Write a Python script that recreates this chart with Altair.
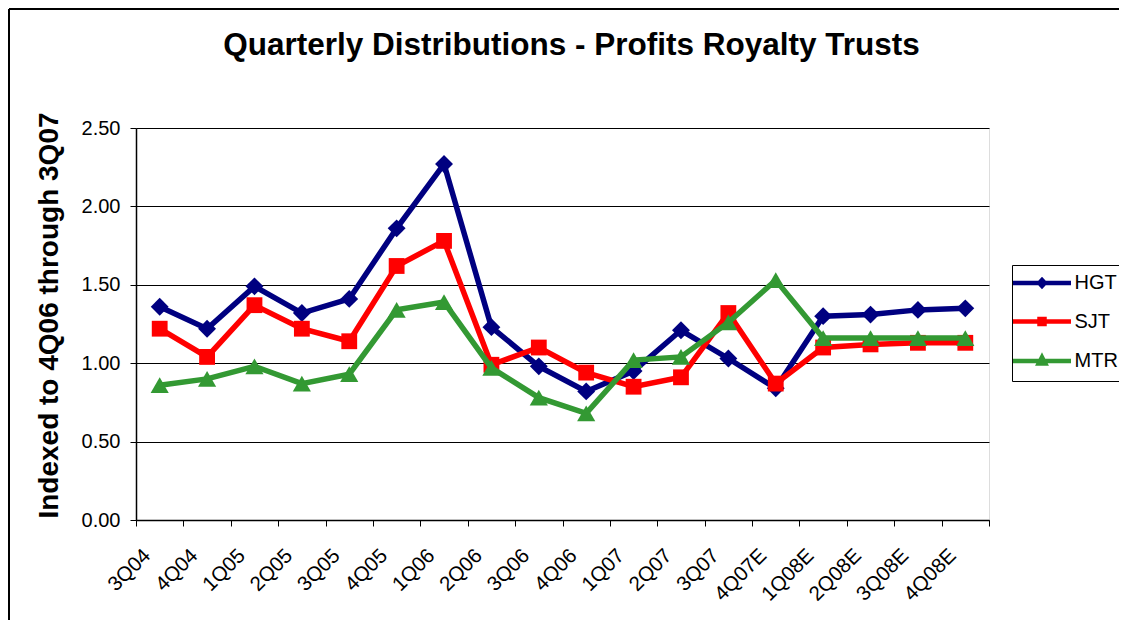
import altair as alt
import pandas as pd

quarters = ["3Q04", "4Q04", "1Q05", "2Q05", "3Q05", "4Q05", "1Q06", "2Q06", "3Q06",
            "4Q06", "1Q07", "2Q07", "3Q07", "4Q07E", "1Q08E", "2Q08E", "3Q08E", "4Q08E"]
hgt = [1.36, 1.22, 1.49, 1.32, 1.41, 1.86, 2.27, 1.23, 0.98, 0.82, 0.95, 1.21, 1.03, 0.84, 1.30, 1.31, 1.34, 1.35]
sjt = [1.22, 1.04, 1.37, 1.22, 1.14, 1.62, 1.78, 0.99, 1.10, 0.94, 0.85, 0.91, 1.32, 0.87, 1.10, 1.12, 1.13, 1.13]
mtr = [0.86, 0.90, 0.98, 0.87, 0.93, 1.34, 1.39, 0.97, 0.78, 0.68, 1.02, 1.04, 1.26, 1.53, 1.16, 1.16, 1.16, 1.16]

series_names = ["HGT", "SJT", "MTR"]
series_colors = ["#000080", "#FF0000", "#339933"]
series_shapes = ["diamond", "square", "triangle-up"]
series_sizes = [320, 250, 330]
y_ticks = [0, 0.5, 1.0, 1.5, 2.0, 2.5]
legend_paths = [
    "M-5.8,0H5.8M0,-0.6L0.55,0L0,0.6L-0.55,0Z",
    "M-5.8,0H5.8M-0.5,-0.5H0.5V0.5H-0.5Z",
    "M-5.8,0H5.8M0,-0.75L0.65,0.5H-0.65Z",
]

FONT = "Liberation Sans"

rows = []
for name, vals in zip(series_names, [hgt, sjt, mtr]):
    for q, v in zip(quarters, vals):
        rows.append({"quarter": q, "series": name, "value": v})
df = pd.DataFrame(rows)

x_enc = alt.X(
    "quarter:N", sort=quarters, bandPosition=0.5,
    scale=alt.Scale(type="band", paddingInner=0, paddingOuter=0),
    axis=alt.Axis(title=None, labelAngle=-45, labelFontSize=20.5, labelFont=FONT,
                  labelColor="black", tickBand="extent", tickSize=6, tickColor="black",
                  domainColor="black", domainWidth=1.5, grid=False, labelPadding=19,
                  labelOffset=-20),
)
y_enc = alt.Y(
    "value:Q", scale=alt.Scale(domain=[0, 2.5], nice=False, zero=True),
    axis=alt.Axis(values=y_ticks, format=".2f", title="Indexed to 4Q06 through 3Q07",
                  labelFontSize=20, labelFont=FONT, labelColor="black", labelPadding=10,
                  tickSize=6, tickColor="black", domainColor="black", domainWidth=1.5,
                  grid=True, gridColor="black", gridWidth=1, gridOpacity=1,
                  titleFont=FONT, titleFontSize=28, titleFontWeight="bold", titleColor="black",
                  titleX=-79, titleY=187, titleAngle=270, titleAlign="center",
                  titleBaseline="alphabetic"),
)

base = alt.Chart(df)
layers = []
for name, color, shape, size in zip(series_names, series_colors, series_shapes, series_sizes):
    sub = base.transform_filter(alt.datum.series == name)
    layers.append(sub.mark_line(color=color, strokeWidth=5.5).encode(x=x_enc, y=y_enc))
    layers.append(sub.mark_point(shape=shape, filled=True, color=color, size=size, opacity=1)
                  .encode(x=x_enc, y=y_enc))

leg = alt.Legend(orient="none", legendX=876, legendY=137, title=None, symbolSize=100,
                 symbolStrokeWidth=4.5, symbolOpacity=1, symbolOffset=12, labelOffset=22.5,
                 labelFontSize=20, labelFont=FONT, labelColor="black", padding=8,
                 rowPadding=14.5, strokeColor="black", fillColor="white")
legend_layer = base.mark_point(opacity=0, filled=True).encode(
    x=x_enc, y=y_enc,
    shape=alt.Shape("series:N", sort=series_names,
                    scale=alt.Scale(domain=series_names, range=legend_paths), legend=leg),
    fill=alt.Fill("series:N", sort=series_names,
                  scale=alt.Scale(domain=series_names, range=series_colors), legend=leg),
    stroke=alt.Stroke("series:N", sort=series_names,
                      scale=alt.Scale(domain=series_names, range=series_colors), legend=leg),
)
layers.append(legend_layer)

frame_left = alt.Chart(df).mark_rule(color="black", strokeWidth=2).encode(
    x=alt.value(-127), y=alt.value(-119), y2=alt.value(500))
frame_top = alt.Chart(df).mark_rule(color="black", strokeWidth=2).encode(
    x=alt.value(-127), x2=alt.value(990), y=alt.value(-119))

chart = alt.layer(frame_left, frame_top, *layers).properties(
    width=853, height=392,
    autosize=alt.AutoSizeParams(type="none"),
    padding={"left": 128, "top": 120, "right": 130, "bottom": 100},
    title=alt.TitleParams("Quarterly Distributions - Profits Royalty Trusts", fontSize=31.5,
                          fontWeight="bold", font=FONT, color="black", anchor="middle",
                          frame="group", dx=9, dy=78, offset=0, baseline="alphabetic"),
).configure_view(stroke="#808080", strokeWidth=2).configure(background="white")

chart.save("out.html", embed_options={"renderer": "svg", "actions": False})
